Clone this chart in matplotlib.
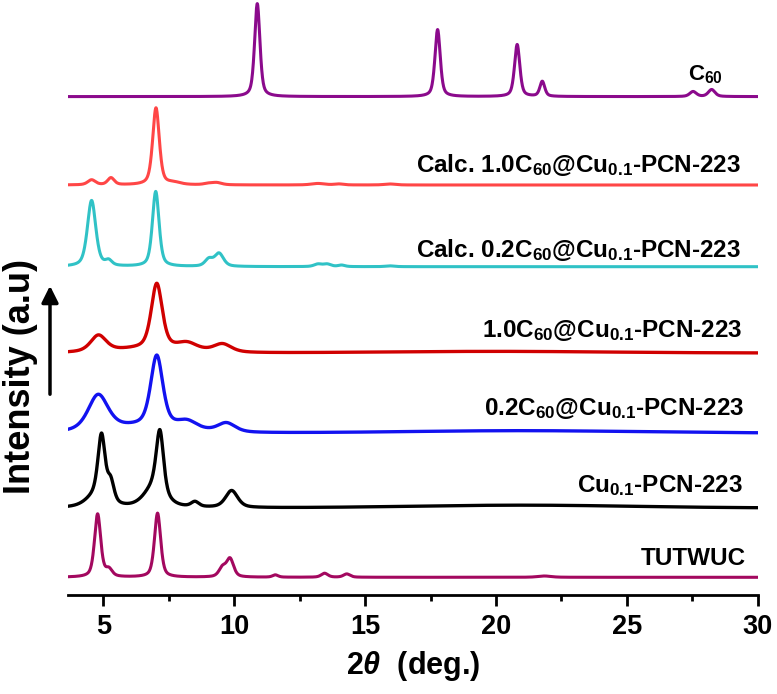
import matplotlib.pyplot as plt
import numpy as np
from matplotlib.ticker import MultipleLocator

plt.rcParams["font.family"] = ["Liberation Sans", "DejaVu Sans"]
plt.rcParams["font.weight"] = "bold"
plt.rcParams["mathtext.fontset"] = "custom"
plt.rcParams["mathtext.rm"] = "Liberation Sans:bold"
plt.rcParams["mathtext.it"] = "Liberation Sans:bold:italic"
plt.rcParams["mathtext.bf"] = "Liberation Sans:bold"

# 2theta grid (deg.)
two_theta = np.arange(3.66, 30.0005, 0.01)

# peak tables: position (deg), height (a.u.), FWHM (deg)
# TUTWUC
tut_pos = [4.78, 5.21, 7.07, 9.55, 9.84, 11.57, 13.45, 14.3, 21.85]
tut_hgt = [63, 7, 64, 9, 18, 2.3, 4, 3.3, 1.3]
tut_fwhm = [0.28, 0.3, 0.28, 0.32, 0.32, 0.25, 0.3, 0.3, 0.6]

# Cu0.1-PCN-223 (measured)
cu_pos = [4.93, 4.75, 5.28, 7.16, 6.95, 8.5, 9.9]
cu_hgt = [62, 12, 20, 61, 20, 5, 17]
cu_fwhm = [0.32, 0.9, 0.3, 0.33, 0.9, 0.35, 0.55]
cu_bg_pos = [21.0]
cu_bg_hgt = [2.8]
cu_bg_fwhm = [10.0]

# 0.2C60@Cu0.1-PCN-223 (measured)
c02_pos = [4.8, 7.04, 8.2, 9.7]
c02_hgt = [35, 71, 8, 9]
c02_fwhm = [0.9, 0.55, 0.9, 0.8]
c02_bg_pos = [6.5, 21.0]
c02_bg_hgt = [6, 2.3]
c02_bg_fwhm = [3.5, 10.0]

# 1.0C60@Cu0.1-PCN-223 (measured)
c10_pos = [4.81, 7.04, 8.2, 9.55]
c10_hgt = [16, 65, 7, 8]
c10_fwhm = [0.7, 0.5, 0.9, 0.8]
c10_bg_pos = [6.8, 20.0]
c10_bg_hgt = [4, 1.6]
c10_bg_fwhm = [3.5, 10.0]

# Calc. 0.2C60@Cu0.1-PCN-223
calc02_pos = [4.55, 5.2, 7.0, 9.03, 9.42, 13.2, 13.55, 14.1, 15.95]
calc02_hgt = [66, 5, 75, 7, 13, 2.5, 2.5, 1.5, 0.8]
calc02_fwhm = [0.38, 0.3, 0.3, 0.35, 0.4, 0.35, 0.35, 0.3, 0.4]

# Calc. 1.0C60@Cu0.1-PCN-223
calc10_pos = [4.55, 5.29, 7.01, 7.7, 9.0, 9.33, 13.2, 14.0, 15.95]
calc10_hgt = [5, 7, 77, 2, 1.2, 2.2, 1.5, 1, 1]
calc10_fwhm = [0.35, 0.3, 0.3, 0.6, 0.4, 0.45, 0.6, 0.4, 0.5]

# C60
c60_pos = [10.88, 17.77, 20.81, 21.77, 27.53, 28.24]
c60_hgt = [93, 67, 52, 15, 5, 7]
c60_fwhm = [0.24, 0.24, 0.24, 0.22, 0.3, 0.3]

# stacking offsets (a.u.)
offsets = [17.7, 87, 162, 242, 328.3, 410, 498.4]
names = [
    "TUTWUC",
    r"Cu$_{0.1}$-PCN-223",
    r"0.2C$_{60}$@Cu$_{0.1}$-PCN-223",
    r"1.0C$_{60}$@Cu$_{0.1}$-PCN-223",
    r"Calc. 0.2C$_{60}$@Cu$_{0.1}$-PCN-223",
    r"Calc. 1.0C$_{60}$@Cu$_{0.1}$-PCN-223",
    r"C$_{60}$",
]
colors = ["#A3085F", "#000000", "#1212F0", "#D00000", "#30C2C6", "#FF4646", "#8B0A8C"]


def pattern(pos, hgt, fwhm, bg_pos=(), bg_hgt=(), bg_fwhm=()):
    y = np.zeros_like(two_theta)
    for c, h, w in zip(pos, hgt, fwhm):
        d = ((two_theta - c) / w) ** 2
        y += h * (0.5 / (1 + 4 * d) + 0.5 * np.exp(-4 * np.log(2) * d))
    for c, h, w in zip(bg_pos, bg_hgt, bg_fwhm):
        y += h * np.exp(-4 * np.log(2) * ((two_theta - c) / w) ** 2)
    return y


curves = [
    pattern(tut_pos, tut_hgt, tut_fwhm),
    pattern(cu_pos, cu_hgt, cu_fwhm, cu_bg_pos, cu_bg_hgt, cu_bg_fwhm),
    pattern(c02_pos, c02_hgt, c02_fwhm, c02_bg_pos, c02_bg_hgt, c02_bg_fwhm),
    pattern(c10_pos, c10_hgt, c10_fwhm, c10_bg_pos, c10_bg_hgt, c10_bg_fwhm),
    pattern(calc02_pos, calc02_hgt, calc02_fwhm),
    pattern(calc10_pos, calc10_hgt, calc10_fwhm),
    pattern(c60_pos, c60_hgt, c60_fwhm),
]
widths = [2.2, 2.4, 2.4, 2.4, 2.2, 2.2, 2.2]

# label anchors (x right edge, baseline y)
label_x = [29.55, 29.42, 29.5, 29.42, 29.38, 29.38, 28.68]
label_y = [30, 103.3, 180, 258.3, 338.3, 423.3, 515]
label_size = [17.5, 17.5, 17.5, 17.5, 17.5, 17.5, 16]

fig = plt.figure(figsize=(7.77, 6.94), dpi=100)
ax = fig.add_axes([68.3 / 777, 99 / 694, (757.7 - 68.3) / 777, 595 / 694])

for y, off, col, lw in zip(curves, offsets, colors, widths):
    ax.plot(two_theta, y + off, color=col, lw=lw)

for name, x, y, fs in zip(names, label_x, label_y, label_size):
    ax.text(x, y, name, ha="right", va="baseline", fontsize=fs, fontweight="bold")

ax.set_xlim(3.66, 30)
ax.set_ylim(0, 595)
for side in ["top", "left", "right"]:
    ax.spines[side].set_visible(False)
ax.spines["bottom"].set_linewidth(2)
ax.set_yticks([])
ax.xaxis.set_major_locator(MultipleLocator(5))
ax.xaxis.set_minor_locator(MultipleLocator(2.5))
ax.tick_params(axis="x", which="major", direction="out", length=8, width=2,
               labelsize=19.5, pad=6)
ax.tick_params(axis="x", which="minor", direction="out", length=4, width=2)
ax.set_xlabel(r"2$\theta$  (deg.)", fontsize=22, fontweight="bold", labelpad=6.5)

fig.text(21 / 777, 1 - 377 / 694, "Intensity (a.u)", rotation=90,
         ha="center", va="center", fontsize=26, fontweight="bold")
ax.annotate("", xy=(50 / 777, 1 - 283 / 694), xytext=(50 / 777, 1 - 397 / 694),
            xycoords="figure fraction",
            arrowprops=dict(arrowstyle="-|>", lw=2.5, color="k", mutation_scale=25))

fig.savefig("out.png", dpi=100)
